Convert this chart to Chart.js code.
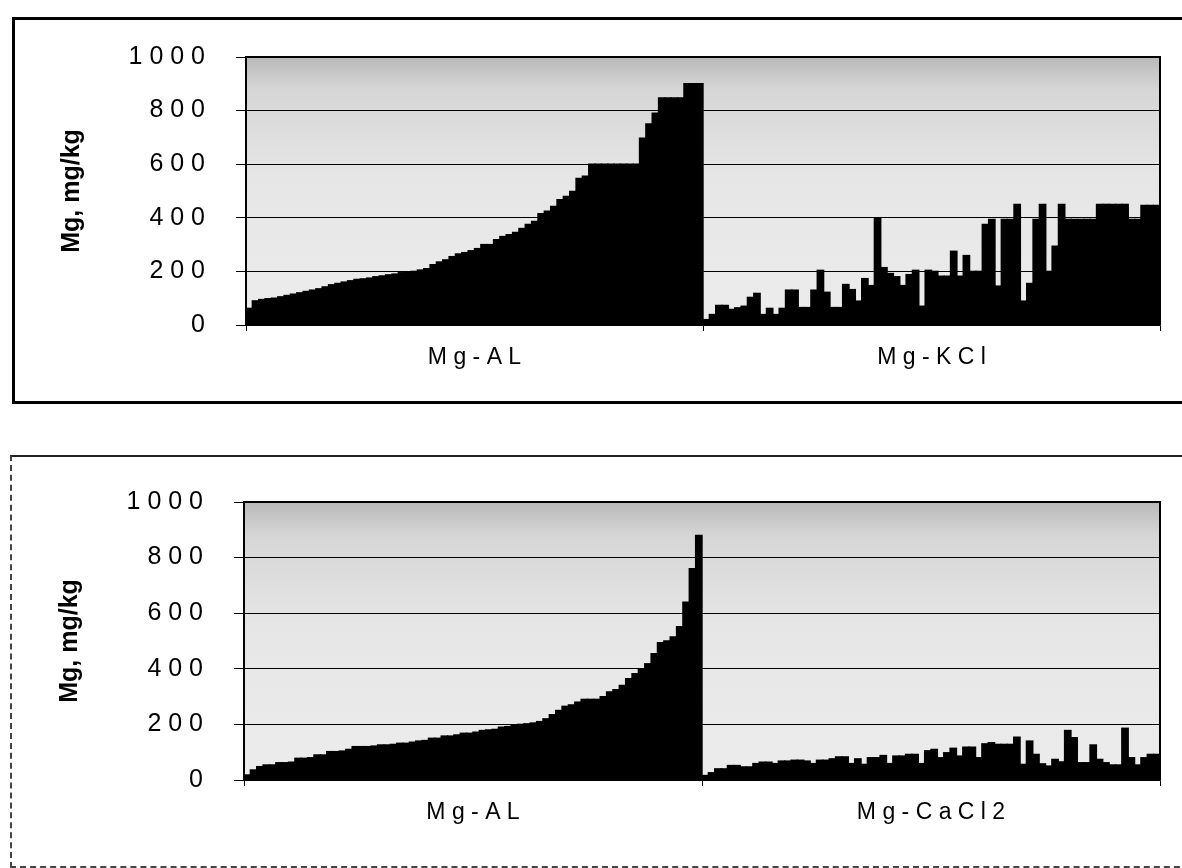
<!DOCTYPE html>
<html>
<head>
<meta charset="utf-8">
<script src="https://cdn.jsdelivr.net/npm/chart.js@4.4.1/dist/chart.umd.min.js"></script>
<style>
  html, body { margin: 0; padding: 0; background: #fff; }
  body { width: 1182px; height: 868px; position: relative; overflow: hidden; }
  .frame { position: absolute; box-sizing: border-box; }
  #frameTop { left: 12px; top: 17px; width: 1200px; height: 387px; border: 3px solid #000; }
  #frameBottom { left: 10px; top: 455px; width: 1200px; height: 413px;
    border-top: 2px solid #222; border-left: 2px dashed #444; border-bottom: 2px dashed #444; }
  canvas { position: absolute; left: 0; }
  #chartTop { top: 0; }
  #chartBottom { top: 440px; }
</style>
</head>
<body>
<div class="frame" id="frameTop"></div>
<div class="frame" id="frameBottom"></div>
<canvas id="chartTop" width="1182" height="403"></canvas>
<canvas id="chartBottom" width="1182" height="428"></canvas>
<script>
// samples sorted by Mg-AL, one bar per sample in each group
const topCategories = ['Mg-AL', 'Mg-KCl'];
const bottomCategories = ['Mg-AL', 'Mg-CaCl2'];
const yTicks = [0, 200, 400, 600, 800, 1000];

const alTop = [62, 90, 95, 98, 100, 105, 110, 115, 120, 125,
    130, 135, 142, 150, 155, 160, 165, 170, 172, 175,
    180, 183, 187, 190, 195, 197, 200, 205, 210, 225,
    235, 243, 255, 265, 270, 277, 285, 300, 300, 318,
    330, 337, 345, 360, 375, 386, 415, 425, 442, 468,
    480, 498, 547, 555, 600, 600, 600, 600, 600, 600,
    600, 600, 697, 750, 790, 847, 847, 847, 847, 900,
    900, 900];
const kclTop = [20, 39, 73, 73, 58, 64, 70, 103, 118, 39,
    62, 39, 62, 130, 130, 65, 65, 130, 204, 122,
    65, 65, 151, 132, 89, 173, 147, 397, 214, 192,
    180, 147, 188, 204, 70, 204, 200, 182, 182, 275,
    182, 259, 200, 200, 375, 394, 145, 394, 394, 450,
    89, 155, 394, 450, 200, 294, 450, 394, 394, 394,
    394, 394, 450, 450, 450, 450, 450, 394, 394, 446,
    446, 446];
const alBottom = [18, 36, 48, 54, 54, 62, 62, 64, 78, 78,
    80, 90, 90, 102, 102, 104, 110, 120, 120, 120,
    122, 126, 126, 128, 132, 132, 136, 140, 142, 150,
    150, 158, 158, 162, 168, 168, 172, 178, 180, 182,
    190, 192, 196, 200, 202, 205, 210, 220, 235, 250,
    265, 270, 280, 290, 290, 290, 300, 317, 325, 340,
    364, 382, 400, 418, 454, 494, 500, 515, 551, 640,
    760, 880];
const cacl2Bottom = [16, 26, 40, 40, 52, 52, 47, 47, 59, 64,
    64, 59, 68, 68, 71, 71, 68, 59, 71, 71,
    76, 83, 83, 59, 76, 56, 80, 80, 88, 59,
    86, 86, 92, 92, 59, 105, 110, 80, 98, 114,
    86, 118, 118, 80, 130, 134, 128, 128, 128, 154,
    56, 140, 92, 58, 50, 74, 65, 178, 152, 62,
    62, 126, 74, 62, 54, 54, 186, 80, 54, 80,
    92, 92];

const FONT = "'Liberation Sans', Arial, sans-serif";
const spaced = (s) => String(s).split('').join(' ');

// stippled grey plot area -> gradient, plus frame round the plot
const plotArea = {
    id: 'plotArea',
    beforeDraw(chart) {
        const { ctx, chartArea: a } = chart;
        const g = ctx.createLinearGradient(0, a.top, 0, a.bottom);
        g.addColorStop(0, '#b9b9b9');
        g.addColorStop(0.12, '#d6d6d6');
        g.addColorStop(0.45, '#e6e6e6');
        g.addColorStop(1, '#ececec');
        ctx.save();
        ctx.fillStyle = g;
        ctx.fillRect(a.left, a.top, a.right - a.left, a.bottom - a.top);
        ctx.restore();
    },
    afterDatasetsDraw(chart) {
        const { ctx, chartArea: a } = chart;
        ctx.save();
        ctx.strokeStyle = '#000';
        ctx.lineWidth = 2;
        ctx.beginPath();
        ctx.moveTo(a.left, a.top);
        ctx.lineTo(a.right, a.top);
        ctx.lineTo(a.right, a.bottom);
        ctx.stroke();
        ctx.restore();
    }
};

const makeChart = (id, categories, left, right, pad) => {
    const datasets = left.map((v, i) => ({
        data: [v, right[i]],
        backgroundColor: '#000',
        borderWidth: 0,
        inflateAmount: 0.7,
        barPercentage: 1,
        categoryPercentage: 1,
    }));
    const yWidth = pad.axisLeft - pad.left;
    return new Chart(document.getElementById(id).getContext('2d'), {
        type: 'bar',
        data: { labels: categories, datasets },
        options: {
            responsive: false,
            animation: false,
            layout: { padding: { left: pad.left, right: pad.right, top: pad.top, bottom: pad.bottom } },
            plugins: { legend: { display: false }, tooltip: { enabled: false } },
            scales: {
                x: {
                    offset: true,
                    afterFit: (s) => { s.height = 60; },
                    grid: { display: true, drawOnChartArea: false, offset: true, color: '#000', tickLength: 6 },
                    border: { color: '#000', width: 1.5 },
                    ticks: {
                        color: '#000', padding: 13, maxRotation: 0,
                        font: { family: FONT, size: 23 },
                        callback: function (v) { return spaced(this.getLabelForValue(v)); },
                    },
                },
                y: {
                    min: 0,
                    max: 1000,
                    afterFit: (s) => { s.width = yWidth; },
                    afterBuildTicks: (s) => { s.ticks = yTicks.map((v) => ({ value: v })); },
                    grid: { color: '#000', lineWidth: 1, tickLength: 10 },
                    border: { color: '#000', width: 2 },
                    ticks: {
                        color: '#000', padding: 31,
                        font: { family: FONT, size: 25 },
                        callback: (v) => spaced(v),
                    },
                    title: {
                        display: true,
                        text: 'Mg, mg/kg',
                        color: '#000',
                        padding: { top: 2, bottom: 0 },
                        font: { family: FONT, size: 25, weight: 'bold' },
                    },
                },
            },
        },
        plugins: [plotArea],
    });
};

makeChart('chartTop', topCategories, alTop, kclTop,
    { left: 55, axisLeft: 246, right: 22, top: 57, bottom: 18 });
makeChart('chartBottom', bottomCategories, alBottom, cacl2Bottom,
    { left: 53, axisLeft: 244, right: 22, top: 62, bottom: 28 });
</script>
</body>
</html>
